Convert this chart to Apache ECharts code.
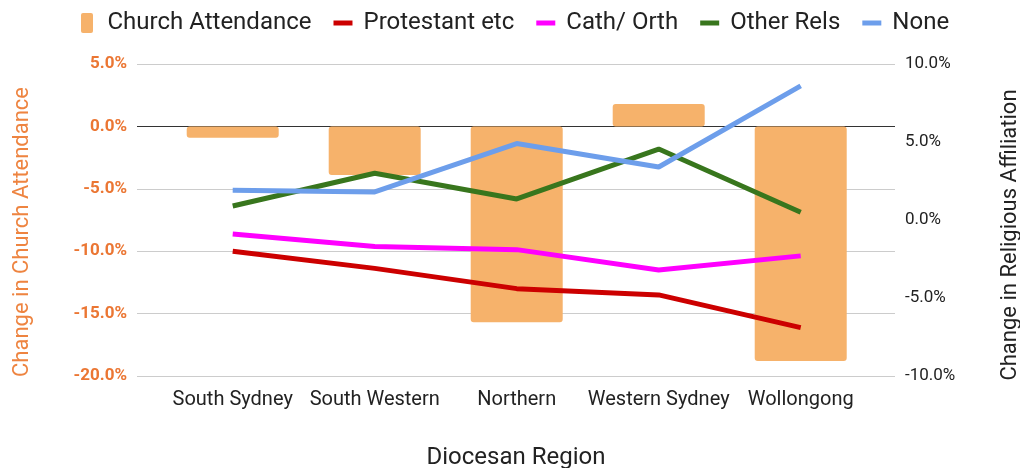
<!DOCTYPE html>
<html>
<head>
<meta charset="utf-8">
<script src="https://cdn.jsdelivr.net/npm/echarts@6/dist/echarts.min.js"></script>
<style>
  html, body { margin: 0; padding: 0; background: #fff; }
  #chart { width: 1020px; height: 468px; }
</style>
</head>
<body>
<div id="chart"></div>
<script>
// regions along the x axis
var regions = ["South Sydney", "South Western", "Northern", "Western Sydney", "Wollongong"];

// change in church attendance (left axis, %)
var attendance = [-0.9, -3.9, -15.7, 1.8, -18.8];

// change in religious affiliation (right axis, %)
var protestant = [-2.0, -3.1, -4.4, -4.8, -6.9];
var cathOrth = [-0.9, -1.7, -1.9, -3.2, -2.3];
var otherRels = [0.9, 3.0, 1.35, 4.55, 0.5];
var noneRel = [1.9, 1.8, 4.9, 3.4, 8.6];

var leftTicks = [-20, -15, -10, -5, 0, 5];
var rightTicks = [-10, -5, 0, 5, 10];

var font = "Roboto";
var chart = echarts.init(document.getElementById("chart"));

// pairs [regionIndex, value]
function pts(arr) {
  return arr.map(function (v, i) { return [i, v]; });
}

function lineSeries(name, color, arr) {
  return {
    name: name,
    type: "line",
    yAxisIndex: 1,
    data: pts(arr),
    symbol: "none",
    lineStyle: { color: color, width: 5 },
    itemStyle: { color: color },
    z: 3
  };
}

var lineIcon = "path://M0,0H19V5H0Z";
var barIcon = "path://M2,0H10Q12,0 12,2V18Q12,20 10,20H2Q0,20 0,18V2Q0,0 2,0Z";

chart.setOption({
  animation: false,
  textStyle: { fontFamily: font },
  legend: {
    top: 6,
    left: 76,
    itemWidth: 19,
    itemHeight: 20,
    itemGap: 22,
    textStyle: { fontSize: 24, color: "#222", fontFamily: font, padding: [0, 0, 0, 6] },
    data: [
      { name: "Church Attendance", icon: barIcon },
      { name: "Protestant etc", icon: lineIcon },
      { name: "Cath/ Orth", icon: lineIcon },
      { name: "Other Rels", icon: lineIcon },
      { name: "None", icon: lineIcon }
    ]
  },
  grid: { left: 137, right: 125, top: 64, bottom: 92, outerBoundsMode: "none", containLabel: false },
  xAxis: {
    type: "value",
    min: -0.674,
    max: 4.664,
    name: "Diocesan Region",
    nameLocation: "middle",
    nameGap: 70,
    nameTextStyle: { fontSize: 24, color: "#222", fontFamily: font },
    axisLine: { show: false },
    axisTick: { show: false },
    splitLine: { show: false },
    axisLabel: {
      customValues: regions.map(function (r, i) { return i; }),
      formatter: function (v) { return regions[Math.round(v)]; },
      fontSize: 20,
      color: "#222",
      margin: 14,
      fontFamily: font
    }
  },
  yAxis: [
    {
      type: "value",
      min: leftTicks[0],
      max: leftTicks[leftTicks.length - 1],
      interval: 5,
      position: "left",
      name: "Change in Church Attendance",
      nameLocation: "middle",
      nameRotate: 90,
      nameGap: 104,
      nameTextStyle: { fontSize: 22, color: "#ee8440", fontFamily: font, padding: [0, 0, 0, -24] },
      axisLine: { show: false },
      axisTick: { show: false },
      axisLabel: {
        formatter: function (v) { return v.toFixed(1) + "%"; },
        fontSize: 17,
        fontWeight: "bold",
        color: "#eb7633",
        margin: 10,
        padding: [5, 0, 0, 0],
        fontFamily: font
      },
      splitLine: {
        lineStyle: { color: ["#cccccc", "#cccccc", "#cccccc", "#cccccc", "#333333", "#cccccc"], width: 1 }
      }
    },
    {
      type: "value",
      min: rightTicks[0],
      max: rightTicks[rightTicks.length - 1],
      interval: 5,
      position: "right",
      name: "Change in Religious Affiliation",
      nameLocation: "middle",
      nameRotate: 90,
      nameGap: 104,
      nameTextStyle: { fontSize: 22, color: "#222", fontFamily: font, padding: [0, 0, 0, -30] },
      axisLine: { show: false },
      axisTick: { show: false },
      axisLabel: {
        formatter: function (v) { return v.toFixed(1) + "%"; },
        fontSize: 17,
        color: "#222",
        margin: 10,
        padding: [5, 0, 0, 0],
        fontFamily: font
      },
      splitLine: { show: false }
    }
  ],
  series: [
    {
      name: "Church Attendance",
      type: "bar",
      yAxisIndex: 0,
      data: pts(attendance),
      barWidth: 92,
      itemStyle: { color: "#f6b26b", borderRadius: 3 },
      z: 2
    },
    lineSeries("Protestant etc", "#cc0000", protestant),
    lineSeries("Cath/ Orth", "#ff00ff", cathOrth),
    lineSeries("Other Rels", "#38761d", otherRels),
    lineSeries("None", "#6d9eeb", noneRel)
  ]
});
</script>
</body>
</html>
